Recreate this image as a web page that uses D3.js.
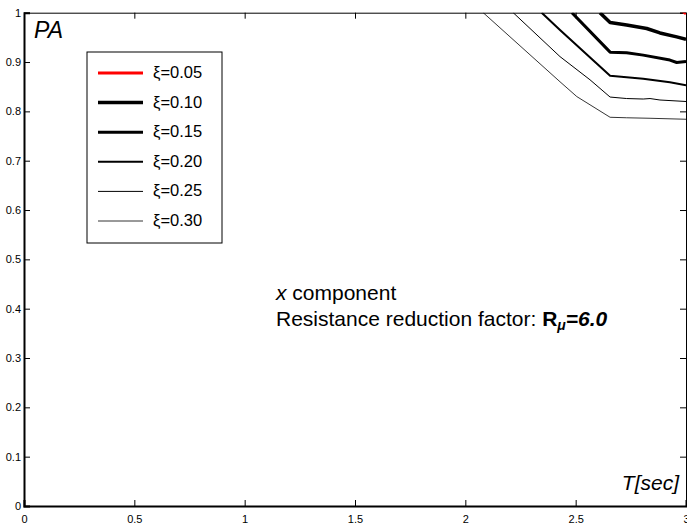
<!DOCTYPE html>
<html>
<head>
<meta charset="utf-8">
<script src="https://cdn.jsdelivr.net/npm/d3@7/dist/d3.min.js"></script>
<style>
  body { margin: 0; background: #fff; }
  svg { display: block; font-family: "Liberation Sans", Arial, sans-serif; }
</style>
</head>
<body>
<div id="chart"></div>
<script>
// damping ratios and their spectra (T [sec], PA)
var xiLabels = ["\u03BE=0.05", "\u03BE=0.10", "\u03BE=0.15", "\u03BE=0.20", "\u03BE=0.25", "\u03BE=0.30"];
var pa005 = [[2.96, 1.01], [3.0, 0.998]];
var pa010 = [[2.61, 1.0], [2.656, 0.980], [2.731, 0.975], [2.822, 0.968], [2.882, 0.959], [2.958, 0.951], [3.0, 0.946]];
var pa015 = [[2.483, 1.0], [2.656, 0.920], [2.731, 0.919], [2.806, 0.914], [2.927, 0.904], [2.958, 0.899], [3.0, 0.901]];
var pa020 = [[2.346, 1.0], [2.429, 0.965], [2.656, 0.872], [2.731, 0.869], [2.806, 0.866], [2.927, 0.859], [3.0, 0.853]];
var pa025 = [[2.217, 1.0], [2.429, 0.911], [2.565, 0.864], [2.656, 0.829], [2.731, 0.826], [2.806, 0.825], [2.837, 0.826], [2.882, 0.823], [3.0, 0.820]];
var pa030 = [[2.081, 1.0], [2.429, 0.860], [2.505, 0.830], [2.656, 0.788], [2.731, 0.787], [2.837, 0.786], [3.0, 0.784]];
var xTicks = [0, 0.5, 1, 1.5, 2, 2.5, 3];
var yTicks = [0, 0.1, 0.2, 0.3, 0.4, 0.5, 0.6, 0.7, 0.8, 0.9, 1];

var series = [pa005, pa010, pa015, pa020, pa025, pa030];
var colors = ["#ff0000", "#000", "#000", "#000", "#000", "#000"];
var widths = [3, 3.5, 3, 2, 1, 0.8];

var W = 687, H = 524;
var margin = {top: 12.7, right: 1, bottom: 18, left: 24};
var w = W - margin.left - margin.right;
var h = H - margin.top - margin.bottom;

var svg = d3.select("#chart").append("svg")
	.attr("width", W)
	.attr("height", H);

var x = d3.scaleLinear().domain([0, 3]).range([0, w]);
var y = d3.scaleLinear().domain([0, 1]).range([h, 0]);

var g = svg.append("g")
	.attr("transform", "translate(" + margin.left + "," + margin.top + ")");

g.append("clipPath").attr("id", "clip")
	.append("rect").attr("width", w).attr("height", h);

// inward ticks on all four sides, labels only bottom/left
var tl = 6;
var axBottom = g.append("g").attr("transform", "translate(0," + h + ")")
	.call(d3.axisBottom(x).tickValues(xTicks).tickSize(-tl).tickPadding(tl + 3).tickFormat(d3.format("")));
var axLeft = g.append("g")
	.call(d3.axisLeft(y).tickValues(yTicks).tickSize(-tl).tickPadding(3).tickFormat(d3.format("")));
var axTop = g.append("g")
	.call(d3.axisTop(x).tickValues(xTicks).tickSize(-tl).tickFormat(""));
var axRight = g.append("g").attr("transform", "translate(" + w + ",0)")
	.call(d3.axisRight(y).tickValues(yTicks).tickSize(-tl).tickFormat(""));

[axBottom, axLeft, axTop, axRight].forEach(function(a) {
	a.select(".domain").attr("stroke", "#000");
	a.selectAll("line").attr("stroke", "#000");
	a.selectAll("text").attr("font-size", 11).attr("fill", "#000")
		.attr("font-family", "Liberation Sans, Arial, sans-serif");
});
axBottom.select(".domain").attr("stroke-width", 2);
axLeft.select(".domain").attr("stroke-width", 2);

var line = d3.line()
	.x(function(d) { return x(d[0]); })
	.y(function(d) { return y(d[1]); });

g.append("g").attr("clip-path", "url(#clip)")
	.selectAll("path")
	.data(series)
	.enter()
	.append("path")
	.attr("d", line)
	.attr("fill", "none")
	.attr("stroke", function(d, i) { return colors[i]; })
	.attr("stroke-width", function(d, i) { return widths[i]; })
	.attr("stroke-linejoin", "round");

// legend
var lg = svg.append("g").attr("transform", "translate(87,52)");
lg.append("rect")
	.attr("width", 135)
	.attr("height", 191)
	.attr("fill", "#fff")
	.attr("stroke", "#000")
	.attr("stroke-width", 1);
var items = lg.selectAll("g.item")
	.data(xiLabels)
	.enter()
	.append("g")
	.attr("class", "item")
	.attr("transform", function(d, i) { return "translate(0," + (21 + i * 29.6) + ")"; });
items.append("line")
	.attr("x1", 11).attr("x2", 56)
	.attr("stroke", function(d, i) { return colors[i]; })
	.attr("stroke-width", function(d, i) { return widths[i]; });
items.append("text")
	.attr("x", 66)
	.attr("y", 5)
	.attr("font-size", 16.5)
	.text(function(d) { return d; });

// labels
svg.append("text")
	.attr("x", 34).attr("y", 38)
	.attr("font-size", 23)
	.attr("font-style", "italic")
	.text("PA");

svg.append("text")
	.attr("x", 679).attr("y", 490)
	.attr("font-size", 21)
	.attr("font-style", "italic")
	.attr("text-anchor", "end")
	.text("T[sec]");

var t1 = svg.append("text").attr("x", 276).attr("y", 300).attr("font-size", 21);
t1.append("tspan").attr("font-style", "italic").text("x");
t1.append("tspan").text(" component");

var t2 = svg.append("text").attr("x", 276).attr("y", 326).attr("font-size", 21);
t2.append("tspan").text("Resistance reduction factor: ");
t2.append("tspan").attr("font-weight", "bold").text("R");
t2.append("tspan").attr("font-weight", "bold").attr("font-style", "italic")
	.attr("font-size", 14).attr("dy", 4).text("\u03BC");
t2.append("tspan").attr("font-weight", "bold").attr("font-style", "italic")
	.attr("dy", -4).text("=6.0");
</script>
</body>
</html>
